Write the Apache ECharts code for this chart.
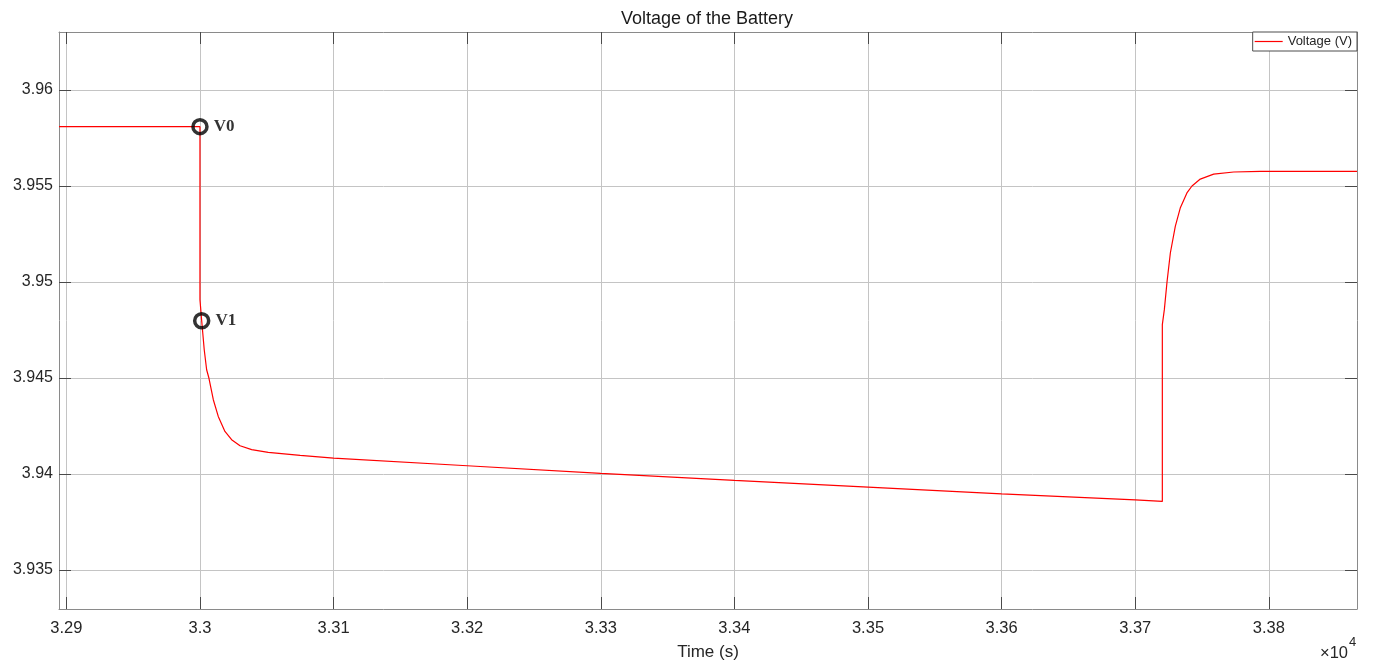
<!DOCTYPE html>
<html>
<head>
<meta charset="utf-8">
<title>Voltage of the Battery</title>
<script src="https://cdn.jsdelivr.net/npm/echarts@6/dist/echarts.min.js"></script>
<style>
  html, body { margin: 0; padding: 0; background: #ffffff; }
  #chart { width: 1374px; height: 666px; }
</style>
</head>
<body>
<div id="chart"></div>
<script>
// Battery terminal voltage around a load step (time in seconds)
const timeSec = [
  32894.5, 33000, 33000, 33001.3, 33003.2, 33005.0, 33006.7, 33010.0, 33013.7,
  33018.7, 33023.7, 33030.0, 33038.7, 33051.1, 33075.0, 33100, 33200, 33300,
  33400, 33500, 33600, 33700, 33720.3, 33720.3, 33721.8, 33723.8, 33726.3,
  33730.0, 33733.7, 33738.7, 33742.5, 33748.7, 33758.7, 33773.7, 33793.7, 33866
];
const voltage = [
  3.95809, 3.95809, 3.94908, 3.94798, 3.94647, 3.94543, 3.94500, 3.94387, 3.94300,
  3.94222, 3.94179, 3.94147, 3.94127, 3.94113, 3.94097, 3.94083, 3.94043, 3.94003,
  3.93967, 3.93932, 3.93897, 3.93865, 3.93857, 3.94778, 3.94856, 3.95000, 3.95151,
  3.95290, 3.95385, 3.95464, 3.95500, 3.95536, 3.95562, 3.95573, 3.95576, 3.95576
];

// Annotated points
const markerNames = ['V0', 'V1'];
const markerTimes = [33000, 33001.3];
const markerVolts = [3.95809, 3.94798];

// Axis ticks
const xTicks = [32900, 33000, 33100, 33200, 33300, 33400, 33500, 33600, 33700, 33800];
const yTicks = [3.935, 3.94, 3.945, 3.95, 3.955, 3.96];
const xRange = [32894.5, 33866];
const yRange = [3.93297, 3.96302];

const lineData = timeSec.map((t, i) => [t, voltage[i]]);
const markerData = markerNames.map((n, i) => ({ name: n, value: [markerTimes[i], markerVolts[i]] }));

const FONT = '"Liberation Sans", Arial, Helvetica, sans-serif';
const AXIS_COLOR = '#8a8a8a';
const TICK_COLOR = '#4a4a4a';
const GRID_COLOR = '#c4c4c4';
const TEXT_COLOR = '#262626';

function xFmt(v) { return parseFloat((v / 1e4).toFixed(4)).toString(); }
function yFmt(v) { return parseFloat(v.toFixed(3)).toString(); }

function xAxisCfg(pos, main) {
  return {
    type: 'value',
    position: pos,
    min: xRange[0],
    max: xRange[1],
    name: main ? 'Time (s)' : '',
    nameLocation: 'middle',
    nameGap: 35,
    nameTextStyle: { fontFamily: FONT, fontSize: 17, color: TEXT_COLOR },
    axisLine: { show: true, onZero: false, lineStyle: { color: AXIS_COLOR, width: 1 } },
    axisTick: { show: true, inside: true, length: 12, customValues: xTicks, lineStyle: { color: TICK_COLOR, width: 1 } },
    axisLabel: { show: main, customValues: xTicks, formatter: xFmt, margin: 11,
                 fontFamily: FONT, fontSize: 16.5, color: TEXT_COLOR },
    splitLine: { show: main, lineStyle: { color: GRID_COLOR, width: 1 } }
  };
}
function yAxisCfg(pos, main) {
  return {
    type: 'value',
    position: pos,
    min: yRange[0],
    max: yRange[1],
    axisLine: { show: true, onZero: false, lineStyle: { color: AXIS_COLOR, width: 1 } },
    axisTick: { show: true, inside: true, length: 12, customValues: yTicks, lineStyle: { color: TICK_COLOR, width: 1 } },
    axisLabel: { show: main, customValues: yTicks, formatter: yFmt, margin: 6,
                 fontFamily: FONT, fontSize: 16, color: TEXT_COLOR },
    splitLine: { show: main, lineStyle: { color: GRID_COLOR, width: 1 } }
  };
}

const chart = echarts.init(document.getElementById('chart'), null, { renderer: 'canvas' });
chart.setOption({
  backgroundColor: '#ffffff',
  animation: false,
  grid: { left: 59, right: 17, top: 32, bottom: 57, containLabel: false },
  xAxis: [xAxisCfg('bottom', true), xAxisCfg('top', false)],
  yAxis: [yAxisCfg('left', true), yAxisCfg('right', false)],
  legend: {
    data: [{ name: 'Voltage (V)', icon: 'rect' }],
    right: 17,
    top: 32,
    orient: 'vertical',
    padding: [2, 5, 2, 2],
    itemWidth: 28,
    itemHeight: 1.2,
    itemStyle: { color: '#ff0000' },
    backgroundColor: '#ffffff',
    borderColor: '#4d4d4d',
    borderWidth: 1,
    borderRadius: 0,
    textStyle: { fontFamily: FONT, fontSize: 13, color: TEXT_COLOR, lineHeight: 15 }
  },
  graphic: [
    {
      type: 'text', x: 707, y: 19, z: 10,
      style: { text: 'Voltage of the Battery', font: '18px ' + FONT, fill: '#1a1a1a',
               textAlign: 'center', textVerticalAlign: 'middle' }
    },
    {
      type: 'text', x: 1348, y: 653, z: 10,
      style: { text: '\u00d710', font: '16.5px ' + FONT, fill: TEXT_COLOR,
               textAlign: 'right', textVerticalAlign: 'middle' }
    },
    {
      type: 'text', x: 1349, y: 642, z: 10,
      style: { text: '4', font: '13px ' + FONT, fill: TEXT_COLOR,
               textAlign: 'left', textVerticalAlign: 'middle' }
    }
  ],
  series: [
    {
      name: 'Voltage (V)',
      type: 'line',
      data: lineData,
      symbol: 'none',
      color: '#ff0000',
      lineStyle: { color: '#ff0000', width: 1.2 },
      z: 3
    },
    {
      name: 'markers',
      type: 'scatter',
      data: markerData,
      symbol: 'circle',
      symbolSize: 14,
      itemStyle: { color: 'rgba(0,0,0,0)', borderColor: '#000000', borderWidth: 3.5 },
      label: {
        show: true, position: 'right', distance: 5,
        formatter: p => p.name,
        fontFamily: '"Liberation Serif", "Times New Roman", serif',
        fontWeight: 'bold', fontSize: 17, color: '#000000'
      },
      emphasis: { disabled: true },
      z: 5
    }
  ]
});
</script>
</body>
</html>
